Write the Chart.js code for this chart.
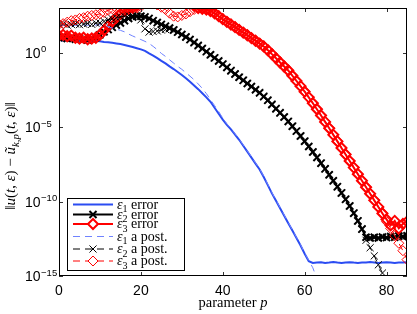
<!DOCTYPE html>
<html lang="en">
<head>
<meta charset="UTF-8">
<title>Error against parameter p</title>
<script src="https://cdn.jsdelivr.net/npm/chart.js@4.4.1/dist/chart.umd.min.js"></script>
<style>
    * { margin: 0; padding: 0; box-sizing: border-box; }
    body { background: #fff; width: 417px; height: 314px; overflow: hidden; }
</style>
</head>
<body>
<canvas id="errChart" width="417" height="314"></canvas>
<script>
    // parameter p
    const pValues = [0,1,2,3,4,5,6,7,8,9,10,11,12,13,14,15,16,17,18,19,20,21,22,23,24,25,26,27,28,29,
        30,31,32,33,34,35,36,37,38,39,40,41,42,43,44,45,46,47,48,49,50,51,52,53,54,55,56,57,58,59,
        60,61,62,63,64,65,66,67,68,69,70,71,72,73,74,75,76,77,78,79,80,81,82,83,84,85];

    // all series as log10 of the norm
    const eps1Error = [0.85,0.82,0.85,0.8,0.83,0.8,0.82,0.78,0.8,0.78,
        0.76,0.72,0.7,0.66,0.62,0.58,0.52,0.45,0.38,0.3,
        0.22,0.12,-0.05,-0.2,-0.37,-0.55,-0.72,-0.92,-1.1,-1.3,
        -1.5,-1.72,-1.95,-2.2,-2.45,-2.72,-3.0,-3.3,-3.7,-4.1,
        -4.5,-4.85,-5.15,-5.5,-5.85,-6.25,-6.65,-7.05,-7.45,-7.85,
        -8.35,-8.9,-9.45,-9.95,-10.45,-10.95,-11.45,-11.95,-12.45,-12.95,
        -13.5,-14.0,-14.12,-14.1,-14.08,-14.12,-14.1,-14.06,-14.1,-14.13,
        -14.1,-14.07,-14.1,-14.12,-14.09,-14.1,-14.06,-14.1,-14.12,-14.1,
        -14.08,-14.1,-14.12,-14.09,-14.1,-14.07];

    const eps2Error = [1.0,1.05,0.95,1.0,0.9,0.95,0.9,0.85,0.95,1.0,
        1.2,1.4,1.55,1.7,1.85,2.0,2.15,2.3,2.4,2.45,
        2.45,2.4,2.3,2.15,2.02,1.9,1.78,1.65,1.52,1.38,
        1.22,1.05,0.88,0.68,0.48,0.28,0.07,-0.14,-0.35,-0.56,
        -0.77,-0.99,-1.21,-1.43,-1.65,-1.86,-2.07,-2.28,-2.49,-2.7,
        -2.95,-3.2,-3.48,-3.76,-4.04,-4.32,-4.62,-4.94,-5.27,-5.6,
        -5.95,-6.3,-6.67,-7.04,-7.42,-7.8,-8.2,-8.6,-9.0,-9.42,
        -9.85,-10.3,-10.78,-11.3,-11.85,-12.4,-12.45,-12.4,-12.45,-12.38,
        -12.42,-12.35,-12.4,-12.32,-12.35,-12.3];

    const eps3Error = [1.15,1.2,1.1,1.15,1.0,0.95,1.0,0.9,0.95,1.0,
        1.2,1.5,1.8,2.1,2.35,2.6,2.8,2.95,3.05,3.15,
        3.3,3.45,3.6,3.7,3.75,3.8,3.8,3.75,3.7,3.6,
        3.5,3.4,3.3,3.15,3.0,2.95,2.9,2.8,2.65,2.45,
        2.25,2.07,1.89,1.71,1.53,1.35,1.17,0.98,0.8,0.61,
        0.42,0.17,-0.1,-0.38,-0.66,-0.93,-1.2,-1.55,-1.9,-2.25,
        -2.62,-3.0,-3.4,-3.8,-4.22,-4.65,-5.08,-5.52,-5.96,-6.4,
        -6.84,-7.28,-7.72,-8.16,-8.6,-9.04,-9.48,-9.92,-10.36,-10.8,
        -11.2,-11.6,-11.3,-11.8,-11.5,-11.35];

    const eps1Post = [1.85,1.82,1.86,1.8,1.84,1.82,1.86,1.84,1.86,1.85,
        1.88,1.85,1.75,1.65,1.58,1.5,1.4,1.25,1.12,1.0,
        0.88,0.76,0.62,0.42,0.2,-0.05,-0.25,-0.48,-0.7,-0.92,
        -1.12,-1.35,-1.58,-1.82,-2.1,-2.4,-2.75,-3.15,-3.55,-3.95,
        -4.4,-4.78,-5.1,-5.45,-5.8,-6.2,-6.6,-7.0,-7.4,-7.8,
        -8.3,-8.85,-9.4,-9.9,-10.4,-10.9,-11.4,-11.9,-12.4,-12.9,
        -13.45,-13.95,-14.45,-15.2,null,null,null,null,null,null,
        null,null,null,null,null,null,null,null,null,null,
        null,null,null,null,null,null];

    const eps2Post = [1.9,1.95,1.85,1.9,1.95,1.88,1.92,1.96,1.9,1.98,
        2.0,2.1,2.2,2.28,2.35,2.4,2.45,2.5,2.5,2.45,
        2.2,1.6,1.38,1.42,1.46,1.52,1.56,1.6,1.52,1.38,
        1.22,1.05,0.88,0.68,0.48,0.28,0.07,-0.14,-0.35,-0.56,
        -0.77,-0.99,-1.21,-1.43,-1.65,-1.86,-2.07,-2.28,-2.49,-2.7,
        -2.95,-3.2,-3.48,-3.76,-4.04,-4.32,-4.62,-4.94,-5.27,-5.6,
        -5.95,-6.3,-6.67,-7.04,-7.42,-7.8,-8.2,-8.6,-9.0,-9.42,
        -9.85,-10.3,-10.78,-11.3,-11.85,-12.6,-13.1,-13.65,-14.25,-14.8,
        -15.4,null,null,null,null,null];

    const eps3Post = [1.9,1.95,2.05,2.15,2.2,2.3,2.35,2.45,2.5,2.55,
        2.6,2.7,2.85,2.95,3.0,2.95,3.0,3.05,2.95,3.0,
        3.1,3.3,3.4,3.3,3.2,3.05,2.9,2.65,2.45,2.4,
        2.5,2.6,2.75,2.9,3.0,3.05,3.0,2.85,2.68,2.48,
        2.29,2.11,1.93,1.75,1.57,1.39,1.21,1.02,0.84,0.65,
        0.46,0.21,-0.06,-0.34,-0.62,-0.89,-1.16,-1.51,-1.86,-2.21,
        -2.58,-2.96,-3.36,-3.76,-4.18,-4.61,-5.04,-5.48,-5.92,-6.36,
        -6.8,-7.24,-7.68,-8.12,-8.56,-9.0,-9.44,-9.88,-10.32,-10.76,
        -11.35,-11.8,-12.3,-12.8,-13.3,-13.9];

    const xTicks = [0, 20, 40, 60, 80];
    const yTickExp = [-15, -10, -5, 0];

    const toPoints = logs => pValues.map((p, i) => ({x: p, y: logs[i] === null ? null : Math.pow(10, logs[i])}));

    const BLUE = '#2b4cf2';
    const BLUE_LIGHT = '#6f82ff';
    const RED = '#ff0000';

    // legend rows: label pieces + the dataset they describe
    const legendRows = [
        {sub: '1', text: ' error', ds: 0},
        {sub: '2', text: ' error', ds: 1},
        {sub: '3', text: ' error', ds: 2},
        {sub: '1', text: ' a post.', ds: 3},
        {sub: '2', text: ' a post.', ds: 4},
        {sub: '3', text: ' a post.', ds: 5}
    ];

    const SERIF = '"Liberation Serif", "Times New Roman", serif';
    const SANS = '"Liberation Sans", Arial, sans-serif';

    function runFont(r, size) {
        const s = r.sub ? size * 0.72 : size;
        return (r.it ? 'italic ' : '') + s + 'px ' + SERIF;
    }
    function runsWidth(ctx, runs, size) {
        let w = 0;
        runs.forEach(r => { ctx.font = runFont(r, size); w += ctx.measureText(r.t).width; });
        return w;
    }
    function drawRuns(ctx, runs, x, y, size) {
        runs.forEach(r => {
            ctx.font = runFont(r, size);
            ctx.fillText(r.t, x, y + (r.sub ? size * 0.28 : 0));
            x += ctx.measureText(r.t).width;
        });
        return x;
    }

    const framePlugin = {
        id: 'frame',
        afterDraw(chart) {
            const {ctx, chartArea: a, scales: {x, y}} = chart;
            ctx.save();
            ctx.setLineDash([]);

            // inward tick marks on all four sides
            ctx.strokeStyle = '#333';
            ctx.lineWidth = 1;
            ctx.beginPath();
            xTicks.forEach(v => {
                const px = Math.round(x.getPixelForValue(v)) + 0.5;
                ctx.moveTo(px, a.bottom); ctx.lineTo(px, a.bottom - 4);
                ctx.moveTo(px, a.top); ctx.lineTo(px, a.top + 4);
            });
            yTickExp.forEach(e => {
                const py = Math.round(y.getPixelForValue(Math.pow(10, e))) + 0.5;
                ctx.moveTo(a.left, py); ctx.lineTo(a.left + 4, py);
                ctx.moveTo(a.right, py); ctx.lineTo(a.right - 4, py);
            });
            ctx.stroke();

            // box
            ctx.strokeStyle = '#000';
            ctx.strokeRect(a.left + 0.5, a.top + 0.5, a.right - a.left - 1, a.bottom - a.top - 1);

            // y tick labels 10^e
            ctx.fillStyle = '#000';
            ctx.textBaseline = 'alphabetic';
            ctx.textAlign = 'left';
            yTickExp.forEach(e => {
                const py = y.getPixelForValue(Math.pow(10, e));
                ctx.font = '14px ' + SANS;
                ctx.fillText('10', 25, py + 5);
                const w = ctx.measureText('10').width;
                ctx.font = '9.5px ' + SANS;
                ctx.fillText(e === 0 ? '0' : '\u2212' + (-e), 25 + w + 0.5, py - 0.5);
            });

            // y axis title
            const ySize = 15;
            const yRuns = [
                {t: '\u2016'}, {t: 'u', it: true}, {t: '('}, {t: 't', it: true}, {t: ', '},
                {t: '\u03b5', it: true}, {t: ') \u2212 '}, {t: '\u0169', it: true},
                {t: 'k,p', it: true, sub: true}, {t: '('}, {t: 't', it: true}, {t: ', '},
                {t: '\u03b5', it: true}, {t: ')\u2016'}
            ];
            const yw = runsWidth(ctx, yRuns, ySize);
            ctx.save();
            ctx.translate(15, (a.top + a.bottom) / 2 + 14);
            ctx.rotate(-Math.PI / 2);
            drawRuns(ctx, yRuns, -yw / 2, 0, ySize);
            ctx.restore();

            // x axis title
            const xSize = 14.5;
            const xRuns = [{t: 'parameter '}, {t: 'p', it: true}];
            const xw = runsWidth(ctx, xRuns, xSize);
            drawRuns(ctx, xRuns, (a.left + a.right) / 2 - xw / 2, 307, xSize);

            // legend box
            const bx = 67, by = 198, bw = 117, bh = 72;
            ctx.fillStyle = '#fff';
            ctx.fillRect(bx, by, bw, bh);
            ctx.strokeStyle = '#000';
            ctx.strokeRect(bx + 0.5, by + 0.5, bw, bh);
            const rowY = [204.5, 214.5, 224, 236.5, 249, 261];
            legendRows.forEach((row, i) => {
                const ds = chart.data.datasets[row.ds];
                const ly = rowY[i];
                ctx.save();
                ctx.strokeStyle = ds.borderColor;
                ctx.lineWidth = ds.borderWidth;
                ctx.setLineDash(ds.borderDash || []);
                ctx.beginPath();
                ctx.moveTo(73, ly); ctx.lineTo(113, ly);
                ctx.stroke();
                ctx.setLineDash([]);
                if (ds.pointRadius > 0) {
                    ctx.fillStyle = '#fff';
                    ctx.strokeStyle = ds.pointBorderColor;
                    ctx.lineWidth = ds.pointBorderWidth;
                    Chart.helpers.drawPoint(ctx, {
                        pointStyle: ds.pointStyle, radius: ds.pointRadius,
                        rotation: 0, borderWidth: ds.pointBorderWidth
                    }, 93, ly);
                }
                ctx.restore();
                ctx.fillStyle = '#000';
                drawRuns(ctx, [
                    {t: '\u03b5', it: true}, {t: row.sub, sub: true}, {t: row.text}
                ], 117, ly + 4, 14);
            });
            ctx.restore();
        }
    };

    const ctx = document.getElementById('errChart').getContext('2d');
    new Chart(ctx, {
        type: 'line',
        data: {
            datasets: [
                {
                    label: 'eps1 error', data: toPoints(eps1Error), order: 5,
                    borderColor: BLUE, borderWidth: 2, pointRadius: 0
                },
                {
                    label: 'eps2 error', data: toPoints(eps2Error), order: 4,
                    borderColor: '#000', borderWidth: 2, pointStyle: 'crossRot',
                    pointRadius: 5, pointBorderWidth: 2, pointBorderColor: '#000',
                    pointBackgroundColor: 'rgba(0,0,0,0)'
                },
                {
                    label: 'eps3 error', data: toPoints(eps3Error), order: 3,
                    borderColor: RED, borderWidth: 2, pointStyle: 'rectRot',
                    pointRadius: 5, pointBorderWidth: 2, pointBorderColor: RED,
                    pointBackgroundColor: 'rgba(0,0,0,0)'
                },
                {
                    label: 'eps1 a post.', data: toPoints(eps1Post), order: 2,
                    borderColor: BLUE_LIGHT, borderWidth: 1, borderDash: [7, 5], pointRadius: 0
                },
                {
                    label: 'eps2 a post.', data: toPoints(eps2Post), order: 1,
                    borderColor: '#000', borderWidth: 1, borderDash: [7, 5], pointStyle: 'crossRot',
                    pointRadius: 5, pointBorderWidth: 1, pointBorderColor: '#000',
                    pointBackgroundColor: 'rgba(0,0,0,0)'
                },
                {
                    label: 'eps3 a post.', data: toPoints(eps3Post), order: 0,
                    borderColor: RED, borderWidth: 1, borderDash: [7, 5], pointStyle: 'rectRot',
                    pointRadius: 5, pointBorderWidth: 1, pointBorderColor: RED,
                    pointBackgroundColor: 'rgba(0,0,0,0)'
                }
            ]
        },
        options: {
            responsive: false,
            devicePixelRatio: 1,
            animation: false,
            layout: { padding: { top: 8, right: 10, left: 0, bottom: 0 } },
            elements: { line: { tension: 0 } },
            plugins: { legend: { display: false }, tooltip: { enabled: false } },
            scales: {
                x: {
                    type: 'linear', position: 'bottom', min: 0, max: 85,
                    grid: { display: false, drawTicks: false },
                    border: { display: false },
                    afterBuildTicks: s => { s.ticks = xTicks.map(v => ({value: v})); },
                    afterFit: s => { s.height = 38; },
                    ticks: {
                        color: '#000', padding: 7, maxRotation: 0,
                        font: { family: SANS, size: 14 }
                    }
                },
                y: {
                    type: 'logarithmic', position: 'left', min: 1e-15, max: 1e3,
                    grid: { display: false, drawTicks: false },
                    border: { display: false },
                    afterBuildTicks: s => { s.ticks = yTickExp.map(e => ({value: Math.pow(10, e)})); },
                    afterFit: s => { s.width = 59; },
                    ticks: { display: false }
                }
            }
        },
        plugins: [framePlugin]
    });
</script>
</body>
</html>
